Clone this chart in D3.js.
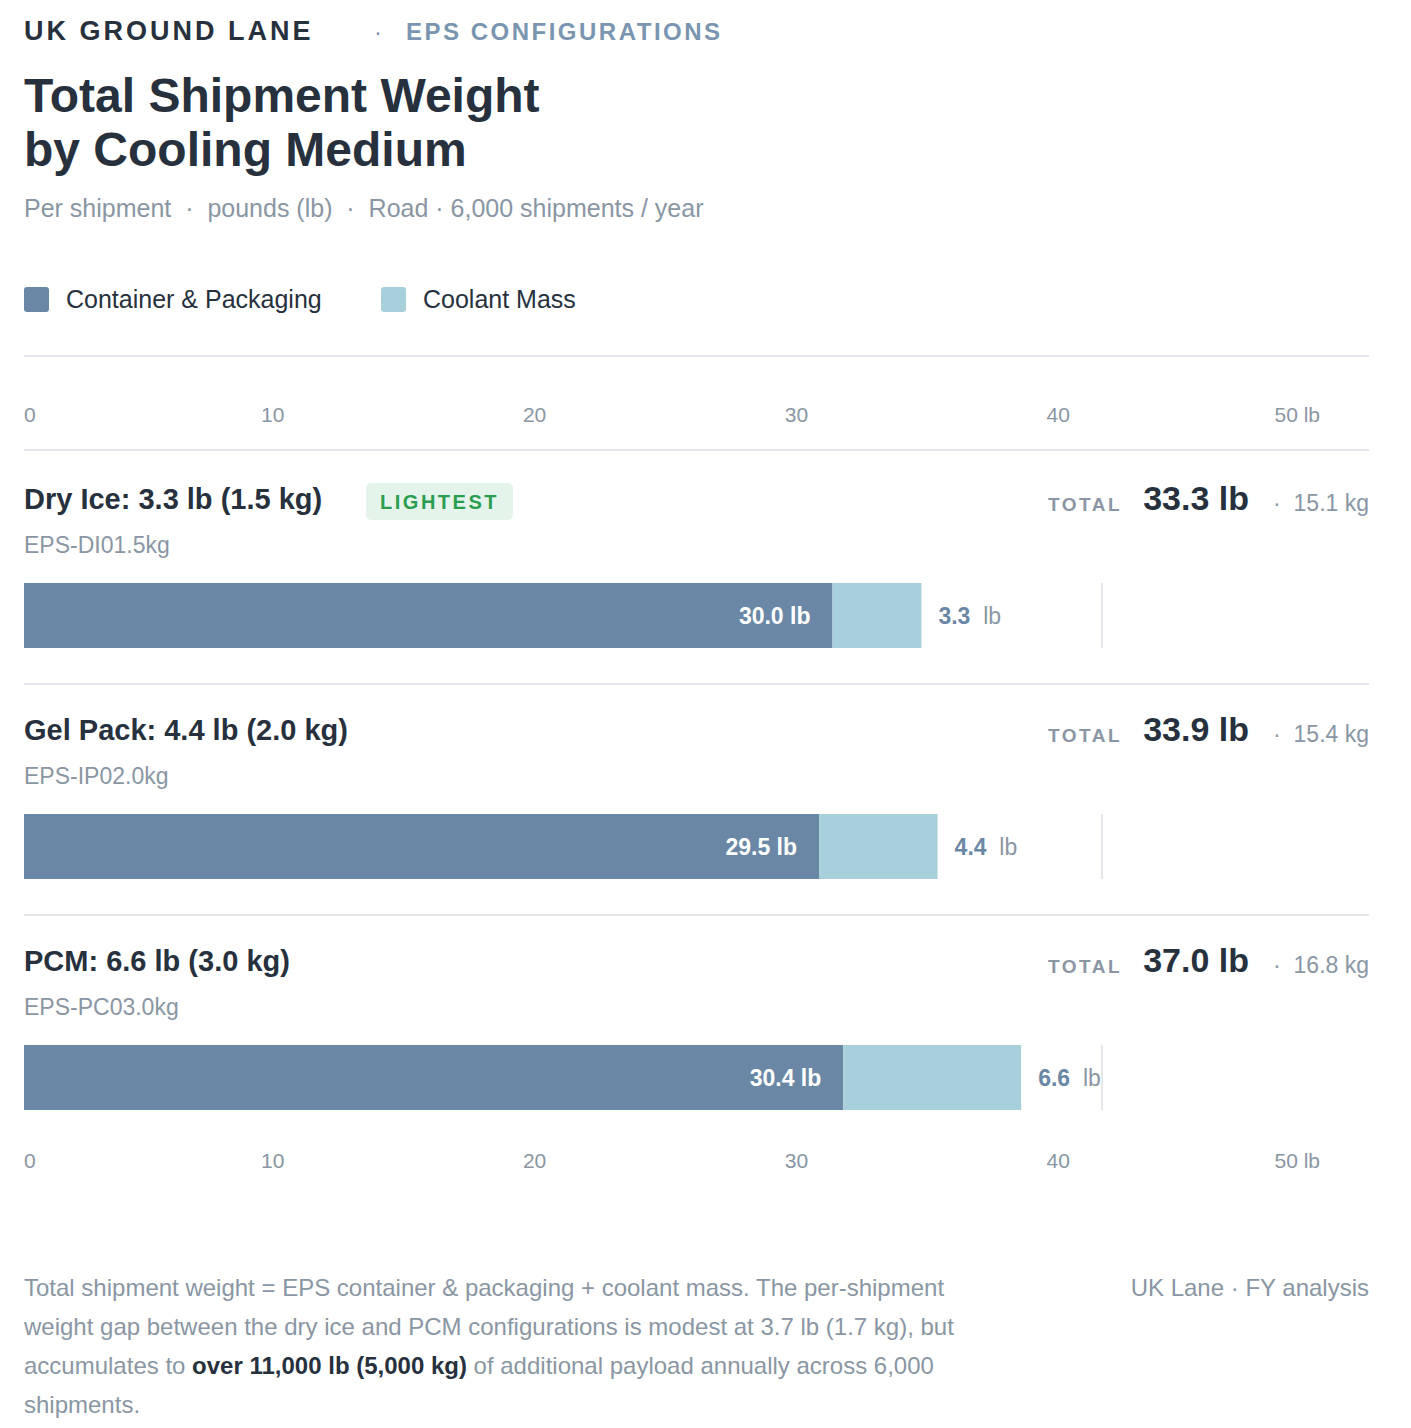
<!DOCTYPE html>
<html><head><meta charset="utf-8">
<script src="https://cdn.jsdelivr.net/npm/d3@7"></script>
<style>body{margin:0;background:#fff;font-family:"Helvetica Neue",Arial,"Liberation Sans",sans-serif}</style>
</head><body><svg id="c" width="1411" height="1428"></svg>
<script>
const categories=["Dry Ice: 3.3 lb (1.5 kg)","Gel Pack: 4.4 lb (2.0 kg)","PCM: 6.6 lb (3.0 kg)"];
const codes=["EPS-DI01.5kg","EPS-IP02.0kg","EPS-PC03.0kg"];
const containerLb=[30.0,29.5,30.4];
const coolantLb=[3.3,4.4,6.6];
const totalLb=[33.3,33.9,37.0];
const totalKg=[15.1,15.4,16.8];
const badges=["LIGHTEST",null,null];
const tickValues=[0,10,20,30,40,50];
const series=["Container & Packaging","Coolant Mass"];
const colors=["#6a88a6","#a8d0da"];
const dark="#27313d",gray="#8a96a3";
const svg=d3.select("#c");
const x=d3.scaleLinear().domain([0,40]).range([24,1102]);
const xt=d3.scaleLinear().domain([0,50]).range([11,1320]);
const t=(X,Y,s,o={})=>{const e=svg.append("text").attr("x",X).attr("y",Y).text(s).attr("font-size",o.fs||24).attr("fill",o.c||dark).attr("font-weight",o.w||400).attr("text-anchor",o.a||"start");if(o.ls)e.attr("letter-spacing",o.ls);return e;};
t(24,40,"UK GROUND LANE",{fs:27,w:800,ls:3});
t(374,40,"·",{fs:24,c:"#7a95b0"});
t(406,40,"EPS CONFIGURATIONS",{fs:24,w:600,c:"#7a95b0",ls:2.5});
t(24,112,"Total Shipment Weight",{fs:48,w:700});
t(24,166,"by Cooling Medium",{fs:48,w:700});
t(24,217,"Per shipment  ·  pounds (lb)  ·  Road · 6,000 shipments / year",{fs:25,c:gray}).attr("xml:space","preserve");
series.forEach((s,i)=>{const lx=[24,381][i];svg.append("rect").attr("x",lx).attr("y",287).attr("width",25).attr("height",25).attr("rx",3).attr("fill",colors[i]);t(lx+42,308,s,{fs:25});});
const hl=(y)=>svg.append("line").attr("x1",24).attr("x2",1369).attr("y1",y).attr("y2",y).attr("stroke","#e3e6ea").attr("stroke-width",2);
hl(356);hl(450);
function axis(y){tickValues.forEach((v,i)=>{const last=i===tickValues.length-1;t(i===0?24:xt(v),y,last?v+" lb":String(v),{fs:21,c:gray,a:i===0?"start":last?"end":"middle"});});}
axis(422);
categories.forEach((c,i)=>{
 const y0=451+i*231;
 t(24,y0+58,c,{fs:29,w:700});
 if(badges[i]){const bw=147;svg.append("rect").attr("x",366).attr("y",y0+32).attr("width",bw).attr("height",37).attr("rx",5).attr("fill","#e5f4ea");t(366+bw/2,y0+58,badges[i],{fs:20,w:700,c:"#2a9d50",a:"middle",ls:2.5});}
 t(24,y0+102,codes[i],{fs:23,c:gray});
 t(1249,y0+59,totalLb[i].toFixed(1)+" lb",{fs:34,w:700,a:"end"});
 t(1122,y0+60,"TOTAL",{fs:19,w:700,c:gray,a:"end",ls:2.5});
 t(1369,y0+60,"·  "+totalKg[i].toFixed(1)+" kg",{fs:23,c:gray,a:"end"}).attr("xml:space","preserve");
 const by=y0+132,bh=65;
 svg.append("line").attr("x1",x(40)).attr("x2",x(40)).attr("y1",by).attr("y2",by+bh).attr("stroke","#e3e6ea").attr("stroke-width",2);
 svg.append("rect").attr("x",x(0)).attr("y",by).attr("width",x(containerLb[i])-x(0)).attr("height",bh).attr("fill",colors[0]);
 svg.append("rect").attr("x",x(containerLb[i])).attr("y",by).attr("width",x(totalLb[i])-x(containerLb[i])).attr("height",bh).attr("fill",colors[1]);
 t(x(containerLb[i])-22,by+41,containerLb[i].toFixed(1)+" lb",{fs:23,w:700,c:"#fff",a:"end"});
 const lt=t(x(totalLb[i])+17,by+41,"",{fs:23,c:gray});
 lt.append("tspan").attr("font-weight",700).attr("fill",colors[0]).text(coolantLb[i].toFixed(1));
 lt.append("tspan").text("  lb").attr("xml:space","preserve");
 if(i<2)hl(y0+233);
});
axis(1168);
const fl=[["Total shipment weight = EPS container & packaging + coolant mass. The per-shipment"],["weight gap between the dry ice and PCM configurations is modest at 3.7 lb (1.7 kg), but"],[["accumulates to ",0],["over 11,000 lb (5,000 kg)",1],[" of additional payload annually across 6,000",0]],["shipments."]];
fl.forEach((l,i)=>{const e=t(24,1296+i*39,"",{fs:24,c:gray});(typeof l[0]==="string"?[[l[0],0]]:l).forEach(p=>e.append("tspan").text(p[0]).attr("font-weight",p[1]?700:400).attr("fill",p[1]?dark:gray));});
t(1369,1296,"UK Lane · FY analysis",{fs:24,c:gray,a:"end"});
</script></body></html>
